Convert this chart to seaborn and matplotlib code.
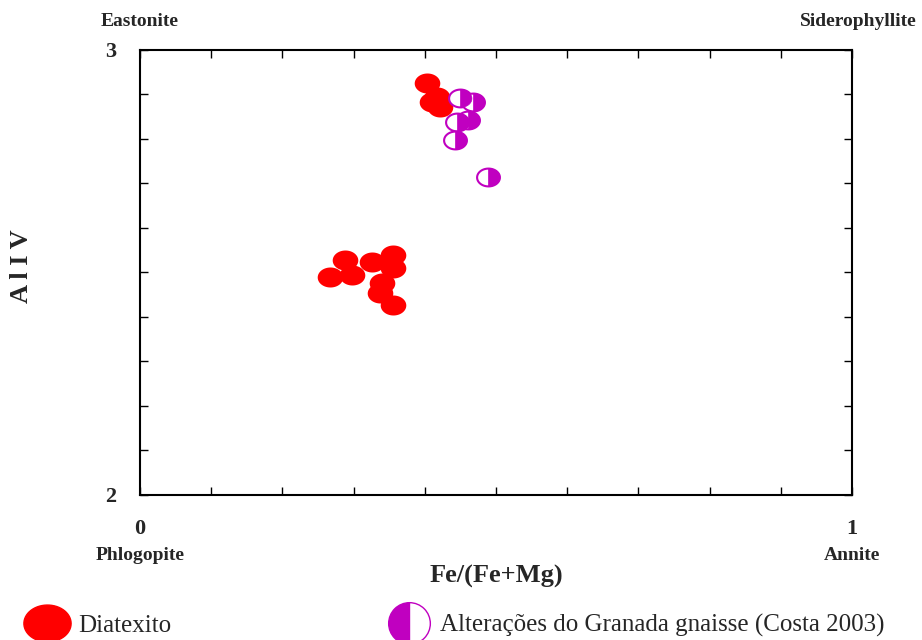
import numpy as np
import pandas as pd
import matplotlib
matplotlib.use('Agg')
import matplotlib.pyplot as plt
import seaborn as sns
from matplotlib.path import Path
from matplotlib.lines import Line2D

# Data
diatexito_x = [0.403, 0.410, 0.421, 0.417, 0.267, 0.288, 0.298, 0.326, 0.355,
               0.355, 0.340, 0.337, 0.355]
diatexito_y = [2.926, 2.883, 2.872, 2.894, 2.490, 2.528, 2.494, 2.524, 2.539,
               2.510, 2.476, 2.454, 2.427]
costa_x = [0.449, 0.468, 0.461, 0.445, 0.442, 0.489]
costa_y = [2.892, 2.883, 2.843, 2.838, 2.798, 2.715]

series_names = ['Diatexito', 'Alterações do Granada gnaisse (Costa 2003)']
red = '#ff0000'
purple = '#c000c0'

sns.set_theme(style='white')
plt.rcParams['font.family'] = ['Liberation Serif', 'DejaVu Serif']

# elliptical marker shapes (wider than tall)
t = np.linspace(0, 2 * np.pi, 60)
ellipse = Path(np.column_stack([1.28 * np.cos(t), np.sin(t)]), closed=True)
t2 = np.linspace(-np.pi / 2, np.pi / 2, 30)
right_half = np.column_stack([1.28 * np.cos(t2), np.sin(t2)])
right_half = np.vstack([right_half, [0, 1], [0, -1]])
half_ellipse = Path(right_half, closed=True)

df_d = pd.DataFrame({'x': diatexito_x, 'y': diatexito_y})
df_c = pd.DataFrame({'x': costa_x, 'y': costa_y})

fig = plt.figure(figsize=(9.22, 6.4), dpi=100)
ax = fig.add_axes([0.1518, 0.2266, 0.7722, 0.6953])

sns.scatterplot(data=df_d, x='x', y='y', marker=ellipse, s=340, color=red,
                edgecolor=red, linewidth=0, ax=ax, zorder=3)
sns.scatterplot(data=df_c, x='x', y='y', marker=ellipse, s=270, color='white',
                edgecolor=purple, linewidth=1.5, ax=ax, zorder=4)
sns.scatterplot(data=df_c, x='x', y='y', marker=half_ellipse, s=270, color=purple,
                edgecolor=purple, linewidth=0.5, ax=ax, zorder=5)

ax.set_xlim(0, 1)
ax.set_ylim(2, 3)
ax.set_xticks(np.round(np.arange(0, 1.01, 0.1), 1))
ax.set_xticklabels(['0'] + [''] * 9 + ['1'])
ax.set_yticks(np.round(np.arange(2, 3.01, 0.1), 1))
ax.set_yticklabels(['2'] + [''] * 9 + ['3'])
ax.tick_params(direction='in', length=6, width=1, color='black',
               top=True, right=True, bottom=True, left=True,
               labelsize=16, pad=17)
for lbl in ax.get_xticklabels() + ax.get_yticklabels():
    lbl.set_fontweight('bold')
for sp in ax.spines.values():
    sp.set_color('black')
    sp.set_linewidth(1.5)
ax.set_xlabel('')
ax.set_ylabel('')

# axis titles and end-member labels
fig.text(496 / 922, 1 - 576 / 640, 'Fe/(Fe+Mg)', ha='center', va='center',
         fontsize=19, fontweight='bold')
fig.text(22 / 922, 1 - 266 / 640, 'A l I V', ha='center', va='center',
         rotation=90, fontsize=19, fontweight='bold')
fig.text(140 / 922, 1 - 22 / 640, 'Eastonite', ha='center', va='center',
         fontsize=14, fontweight='bold')
fig.text(917 / 922, 1 - 22 / 640, 'Siderophyllite', ha='right', va='center',
         fontsize=14, fontweight='bold')
fig.text(140 / 922, 1 - 555 / 640, 'Phlogopite', ha='center', va='center',
         fontsize=14, fontweight='bold')
fig.text(852 / 922, 1 - 556 / 640, 'Annite', ha='center', va='center',
         fontsize=14, fontweight='bold')

# legend (partly cut by the bottom edge, as in the original)
handles = [
    Line2D([], [], linestyle='none', marker=ellipse, markersize=34, color=red),
    Line2D([], [], linestyle='none', marker='o', markersize=30, color=purple,
           fillstyle='left', markerfacecoloralt='white', markeredgewidth=1),
]
fig.legend(handles, series_names, loc='lower left', bbox_to_anchor=(0.005, -0.031),
           ncol=2, frameon=False, fontsize=18, columnspacing=8.7,
           handletextpad=0.45, handlelength=1.6)

plt.savefig('out.png', dpi=100)
plt.close()
